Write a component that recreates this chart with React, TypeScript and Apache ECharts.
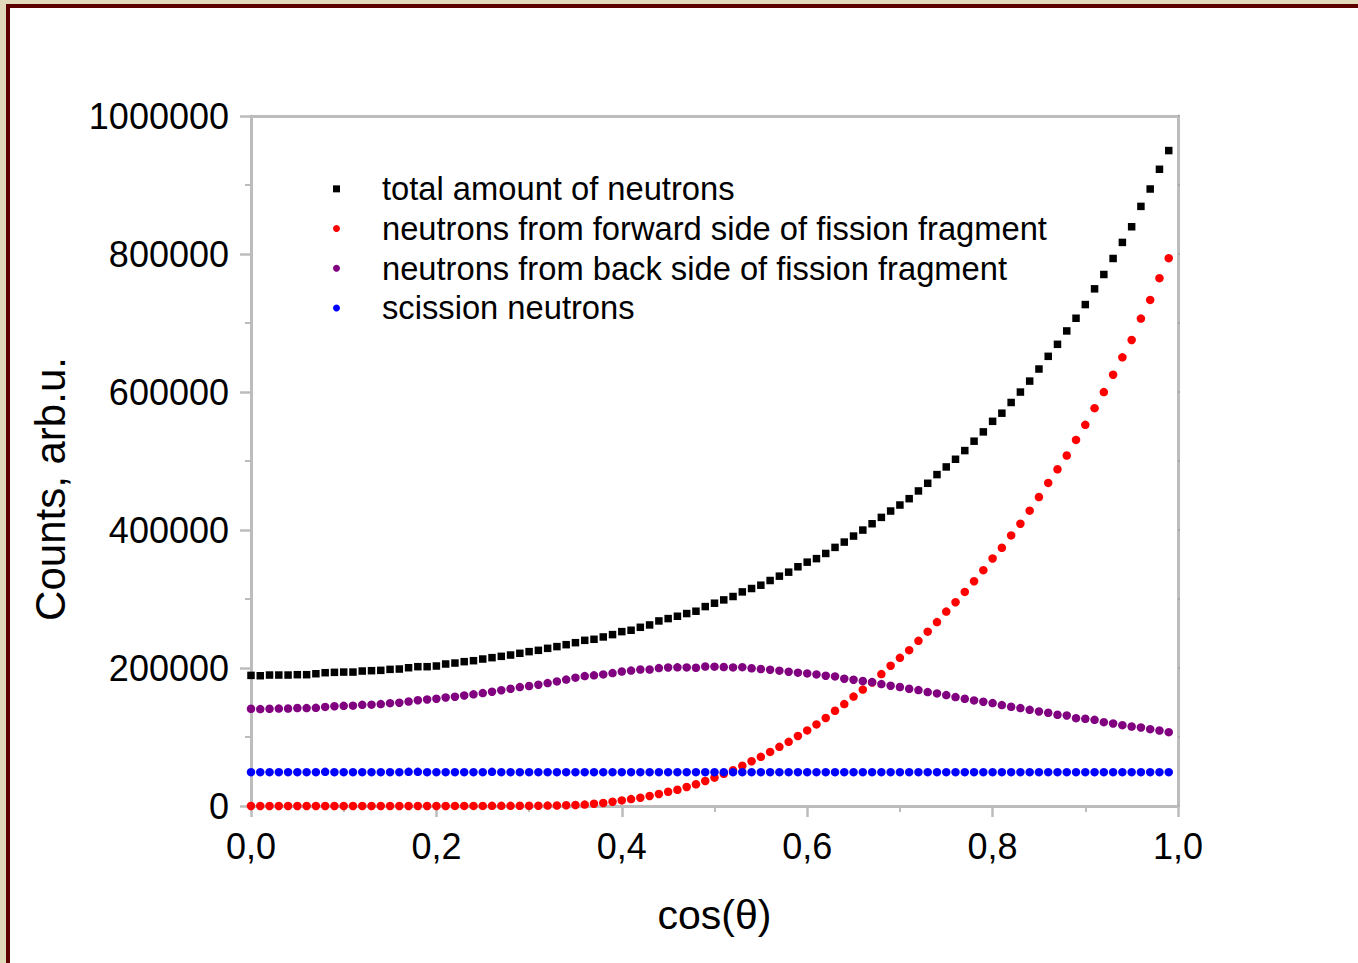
import React, { useEffect, useRef } from "react";
import * as echarts from "echarts";

const cosTheta = [
  0.0, 0.01, 0.02, 0.03, 0.04, 0.05, 0.06, 0.07, 0.08, 0.09,
  0.1, 0.11, 0.12, 0.13, 0.14, 0.15, 0.16, 0.17, 0.18, 0.19,
  0.2, 0.21, 0.22, 0.23, 0.24, 0.25, 0.26, 0.27, 0.28, 0.29,
  0.3, 0.31, 0.32, 0.33, 0.34, 0.35, 0.36, 0.37, 0.38, 0.39,
  0.4, 0.41, 0.42, 0.43, 0.44, 0.45, 0.46, 0.47, 0.48, 0.49,
  0.5, 0.51, 0.52, 0.53, 0.54, 0.55, 0.56, 0.57, 0.58, 0.59,
  0.6, 0.61, 0.62, 0.63, 0.64, 0.65, 0.66, 0.67, 0.68, 0.69,
  0.7, 0.71, 0.72, 0.73, 0.74, 0.75, 0.76, 0.77, 0.78, 0.79,
  0.8, 0.81, 0.82, 0.83, 0.84, 0.85, 0.86, 0.87, 0.88, 0.89,
  0.9, 0.91, 0.92, 0.93, 0.94, 0.95, 0.96, 0.97, 0.98, 0.99,
];

const totalNeutrons = [
  189300, 188800, 189800, 189800, 189800, 190300, 190300, 191700, 193200, 193700,
  194100, 194100, 195600, 196100, 196600, 198000, 198500, 200400, 201900, 201900,
  202900, 205800, 207200, 209200, 210600, 213000, 215000, 216900, 218800, 221300,
  223700, 225600, 228500, 231000, 233800, 236700, 240100, 241600, 245000, 248400,
  252700, 254700, 259000, 262400, 268200, 271600, 275000, 278900, 282300, 289000,
  293900, 298700, 303600, 310300, 315200, 320000, 326800, 333100, 338900, 346700,
  353400, 358500, 366000, 374800, 382500, 391200, 399900, 409100, 418300, 427500,
  436200, 445400, 456600, 467700, 480300, 491400, 502500, 515100, 528700, 542200,
  557500, 569300, 584800, 599900, 615800, 633300, 651700, 669100, 688500, 706900,
  726700, 749500, 770300, 793500, 816800, 839500, 869000, 894200, 922800, 949900,
];

const forwardSide = [
  0, 0, 0, 0, 0, 0, 0, 0, 0, 0,
  0, 0, 0, 0, 0, 0, 0, 0, 0, 0,
  0, 0, 100, 100, 100, 100, 200, 200, 200, 300,
  300, 400, 600, 800, 1100, 1500, 2000, 3300, 4400, 6200,
  8100, 10000, 12000, 14500, 17400, 20600, 23500, 27600, 31500, 36300,
  41100, 46600, 51800, 58300, 64900, 71200, 78400, 85700, 93000, 101500,
  109600, 118200, 127600, 138000, 147700, 158600, 168700, 179000, 191200, 203300,
  214700, 225900, 239400, 252700, 266500, 281800, 295300, 310300, 325800, 341800,
  358700, 374200, 392200, 409100, 428000, 447800, 468200, 488000, 507900, 530600,
  552400, 576600, 599900, 625000, 650200, 675400, 706400, 733500, 765000, 794000,
];

const backSide = [
  140900, 140400, 140900, 141200, 141300, 142000, 141900, 142300, 143600, 144600,
  145200, 145400, 146600, 146900, 147700, 149000, 149700, 151400, 153300, 154400,
  155500, 157300, 158400, 160200, 161800, 163600, 165600, 167800, 169900, 172300,
  173900, 175800, 178100, 180600, 183200, 186000, 188300, 189400, 190700, 192600,
  194900, 196200, 197800, 197800, 199900, 200800, 201000, 200900, 200300, 202100,
  201900, 201400, 200900, 201200, 199600, 198500, 197500, 196100, 194600, 193200,
  192200, 190700, 188800, 187800, 184500, 183000, 181100, 179600, 176700, 174300,
  172400, 169900, 168000, 165100, 163200, 160700, 157800, 155400, 153000, 151100,
  149100, 146200, 143800, 141900, 139400, 137000, 135100, 132200, 131200, 127300,
  126400, 124900, 121500, 119600, 117200, 115200, 113800, 111400, 109400, 107000,
];

const scission = [
  49000, 49000, 49000, 49000, 49000, 49000, 49000, 49000, 49500, 49000,
  49000, 49000, 49000, 49000, 49000, 49000, 49000, 49500, 49500, 49000,
  49000, 49000, 49000, 49000, 49000, 49000, 49500, 49000, 49000, 49000,
  49000, 49000, 49000, 49000, 49000, 49000, 49000, 49000, 49000, 49000,
  49000, 49000, 49000, 49000, 49000, 49000, 49000, 49000, 49000, 49000,
  49000, 49000, 49000, 49000, 49000, 49000, 49000, 49000, 49000, 49000,
  49000, 49000, 49000, 49000, 49000, 49000, 49000, 49000, 49000, 49000,
  49000, 49000, 49000, 49000, 49000, 49000, 49000, 49000, 49000, 49000,
  49000, 49000, 49000, 49000, 49000, 49000, 49000, 49000, 49000, 49000,
  49000, 49000, 49000, 49000, 49000, 49000, 49000, 49000, 49000, 49000,
];

const seriesNames = [
  "total amount of neutrons",
  "neutrons from forward side of fission fragment",
  "neutrons from back side of fission fragment",
  "scission neutrons",
];

const xTickLabels = ["0,0", "0,2", "0,4", "0,6", "0,8", "1,0"];
const yTickLabels = ["0", "200000", "400000", "600000", "800000", "1000000"];

const FONT = "Liberation Sans, Arial, sans-serif";
const AXIS_GRAY = "#bcbcbc";

function pairs(ys: number[]) {
  return ys.map((y, i) => [cosTheta[i], y]);
}

export default function App() {
  const ref = useRef<HTMLDivElement>(null);

  useEffect(() => {
    if (!ref.current) return;
    const chart = echarts.init(ref.current, null, { renderer: "svg" });
    const axisLine = { show: true, onZero: false, lineStyle: { color: AXIS_GRAY, width: 3 } };
    chart.setOption({
      animation: false,
      backgroundColor: "transparent",
      grid: { left: 251, right: 180, top: 116, bottom: 157, containLabel: false },
      legend: {
        orient: "vertical",
        left: 333,
        top: 169,
        padding: 0,
        itemGap: 0,
        itemWidth: 7,
        itemHeight: 7,
        selectedMode: false,
        data: seriesNames,
        textStyle: {
          fontFamily: FONT,
          fontSize: 32.7,
          color: "#000",
          lineHeight: 39.7,
          padding: [0, 0, 0, 37],
        },
      },
      graphic: [
        {
          type: "text",
          x: 50,
          y: 489,
          rotation: Math.PI / 2,
          style: {
            text: "Counts, arb.u.",
            fontFamily: FONT,
            fontSize: 42,
            fill: "#000",
            align: "center",
            verticalAlign: "middle",
          },
        },
      ],
      xAxis: [
        {
          type: "value",
          min: 0,
          max: 1,
          interval: 0.2,
          position: "bottom",
          axisLine,
          splitLine: { show: false },
          axisTick: { show: true, inside: false, length: 11, lineStyle: { color: AXIS_GRAY, width: 2.5 } },
          minorTick: { show: true, splitNumber: 2, length: 6, lineStyle: { color: AXIS_GRAY, width: 2 } },
          axisLabel: {
            margin: 22,
            fontFamily: FONT,
            fontSize: 36,
            color: "#000",
            formatter: (v: number) => xTickLabels[Math.round(v / 0.2)] ?? "",
          },
          name: "cos(θ)",
          nameLocation: "middle",
          nameGap: 88,
          nameTextStyle: { fontFamily: FONT, fontSize: 41, color: "#000" },
        },
        {
          type: "value",
          min: 0,
          max: 1,
          interval: 0.2,
          position: "top",
          axisLine,
          splitLine: { show: false },
          axisTick: { show: false },
          axisLabel: { show: false },
        },
      ],
      yAxis: [
        {
          type: "value",
          min: 0,
          max: 1000000,
          interval: 200000,
          position: "left",
          axisLine,
          splitLine: { show: false },
          axisTick: { show: true, inside: false, length: 11, lineStyle: { color: AXIS_GRAY, width: 2.5 } },
          minorTick: { show: true, splitNumber: 2, length: 6, lineStyle: { color: AXIS_GRAY, width: 2 } },
          axisLabel: {
            margin: 22,
            fontFamily: FONT,
            fontSize: 36,
            color: "#000",
            formatter: (v: number) => yTickLabels[Math.round(v / 200000)] ?? "",
          },
        },
        {
          type: "value",
          min: 0,
          max: 1000000,
          interval: 100000,
          position: "right",
          axisLine,
          splitLine: { show: false },
          axisTick: { show: true, inside: false, length: 2, lineStyle: { color: "#a8a8a8", width: 2 } },
          axisLabel: { show: false },
        },
      ],
      series: [
        {
          name: seriesNames[0],
          type: "scatter",
          symbol: "rect",
          symbolSize: 7.5,
          itemStyle: { color: "#000000", opacity: 1 },
          data: pairs(totalNeutrons),
        },
        {
          name: seriesNames[1],
          type: "scatter",
          symbol: "circle",
          symbolSize: 8.5,
          itemStyle: { color: "#ff0000", opacity: 1 },
          data: pairs(forwardSide),
        },
        {
          name: seriesNames[2],
          type: "scatter",
          symbol: "circle",
          symbolSize: 8.5,
          itemStyle: { color: "#800080", opacity: 1 },
          data: pairs(backSide),
        },
        {
          name: seriesNames[3],
          type: "scatter",
          symbol: "circle",
          symbolSize: 8.5,
          itemStyle: { color: "#0000ff", opacity: 1 },
          data: pairs(scission),
        },
      ],
    });
    return () => chart.dispose();
  }, []);

  return (
    <div style={{ position: "absolute", left: 0, top: 0, width: 1358, height: 963, background: "#e2dbbb", overflow: "hidden" }}>
      <div style={{ position: "absolute", left: 6, top: 4, right: 0, bottom: 0, background: "#5c0000" }} />
      <div style={{ position: "absolute", left: 10, top: 8, right: 0, bottom: 0, background: "#ffffff" }} />
      <div ref={ref} style={{ position: "absolute", left: 0, top: 0, width: 1358, height: 963 }} />
    </div>
  );
}
